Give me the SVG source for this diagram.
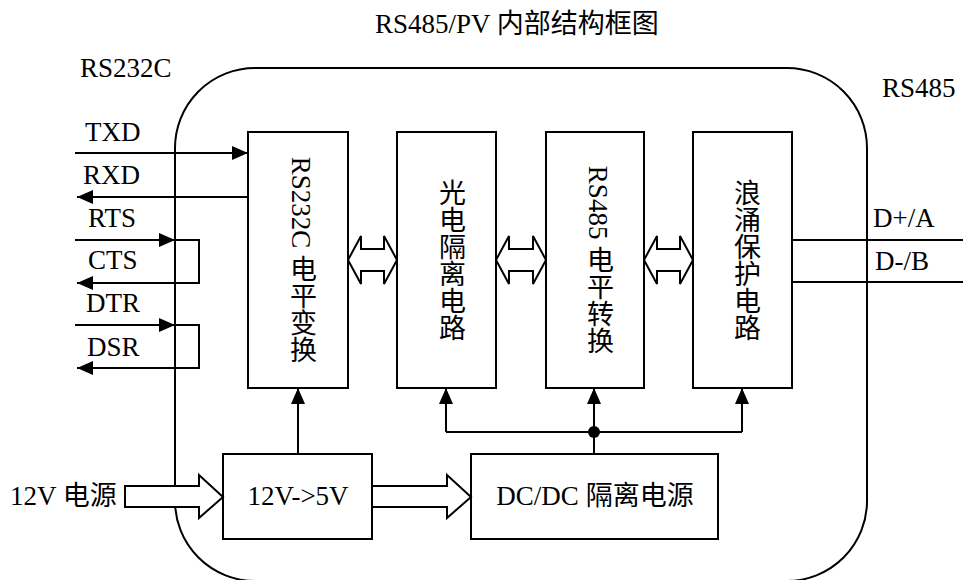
<svg xmlns="http://www.w3.org/2000/svg" width="963" height="580" viewBox="0 0 963 580">
<style>
text{font-family:"Liberation Serif","Noto Sans CJK SC",serif;font-size:27px;fill:#000}
.v{writing-mode:vertical-rl;text-anchor:middle}
.m{text-anchor:middle}
.box{fill:#fff;stroke:#000;stroke-width:2}
.ln{fill:none;stroke:#000;stroke-width:2}
.arr{marker-end:url(#ah)}
.big{fill:#fff;stroke:#000;stroke-width:2;stroke-linejoin:miter}
</style>
<defs>
<marker id="ah" viewBox="0 0 16 14" refX="16" refY="7" markerWidth="16" markerHeight="14" markerUnits="userSpaceOnUse" orient="auto">
<path d="M0,0 L16,7 L0,14 Z" fill="#000"/>
</marker>
</defs>
<rect width="963" height="580" fill="#fff"/>
<text x="375" y="33">RS485/PV 内部结构框图</text>
<g id="enclosure">
<rect x="175" y="68" width="692" height="513" rx="80" ry="80" fill="none" stroke="#000" stroke-width="2"/>
<text x="80" y="77">RS232C</text>
<text x="882" y="97">RS485</text>
</g>
<g id="n-rs232">
<rect class="box" x="248" y="132" width="100" height="256"/>
<text class="v" x="301" y="260">RS232C 电平变换</text>
</g>
<g id="n-opto">
<rect class="box" x="397" y="132" width="99" height="256"/>
<text class="v" x="450" y="260">光电隔离电路</text>
</g>
<g id="n-rs485">
<rect class="box" x="546" y="132" width="98" height="256"/>
<text class="v" x="598" y="260">RS485 电平转换</text>
</g>
<g id="n-surge">
<rect class="box" x="693" y="132" width="99" height="256"/>
<text class="v" x="745" y="260">浪涌保护电路</text>
</g>
<g id="n-reg">
<rect class="box" x="223" y="454" width="149" height="85"/>
<text class="m" x="298" y="505">12V-&gt;5V</text>
</g>
<g id="n-dcdc">
<rect class="box" x="471" y="454" width="247" height="85"/>
<text class="m" x="595" y="505">DC/DC 隔离电源</text>
</g>
<g id="n-power">
<text x="10" y="505">12V 电源</text>
</g>
<g id="connectors">
<path class="ln arr" d="M75,153 H248"/>
<path class="ln arr" d="M248,197 H77"/>
<path class="ln arr" d="M75,240 H175"/>
<path class="ln arr" d="M175,240 H199 V283 H77"/>
<path class="ln arr" d="M75,325 H175"/>
<path class="ln arr" d="M175,325 H199 V368 H77"/>
<path class="ln arr" d="M298,454 V388"/>
<path class="ln" d="M594,454 V432 M446,432 H742"/>
<path class="ln arr" d="M446,432 V388"/>
<path class="ln arr" d="M594,432 V388"/>
<path class="ln arr" d="M742,432 V388"/>
<circle cx="594" cy="432" r="6" fill="#000"/>
<path class="ln" d="M792,240 H963 M792,282 H963"/>
<path class="big" d="M348,260 L361,236 V249 H384 V236 L397,260 L384,284 V271 H361 V284 Z"/>
<path class="big" d="M496,260 L509,236 V249 H533 V236 L546,260 L533,284 V271 H509 V284 Z"/>
<path class="big" d="M644,260 L657,236 V249 H680 V236 L693,260 L680,284 V271 H657 V284 Z"/>
<path class="big" d="M125,486 H199 V475 L223,497 L199,518 V507 H125 Z"/>
<path class="big" d="M372,486 H447 V475 L471,497 L447,518 V507 H372 Z"/>
<text x="85" y="141">TXD</text>
<text x="83" y="184">RXD</text>
<text x="88" y="227">RTS</text>
<text x="88" y="269">CTS</text>
<text x="86" y="312">DTR</text>
<text x="87" y="356">DSR</text>
<text x="873" y="227">D+/A</text>
<text x="875" y="270">D-/B</text>
</g>
</svg>
